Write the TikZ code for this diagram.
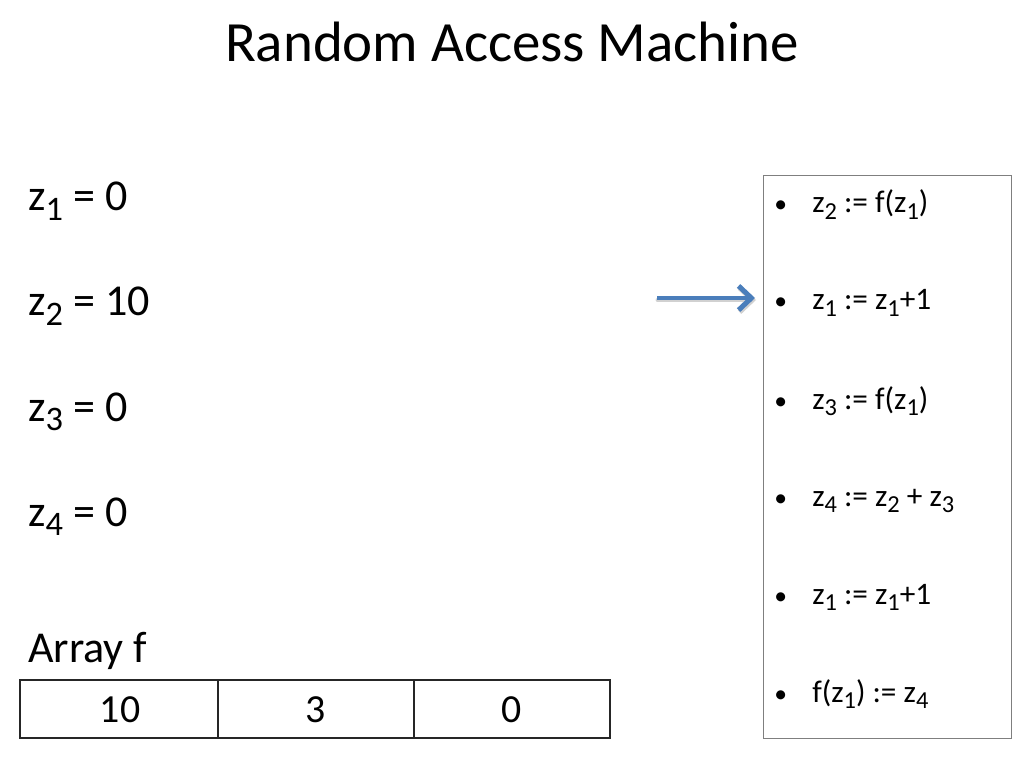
\documentclass[tikz,border=0pt]{standalone}
\usepackage{fontspec}
\setmainfont{Carlito}
\usetikzlibrary{arrows.meta}
\newcommand\zs[1]{\raisebox{-0.22em}{\scalebox{0.78}{#1}}}
\definecolor{arrowblue}{HTML}{4A7EBB}
\definecolor{boxgray}{HTML}{7F7F7F}
\begin{document}
\begin{tikzpicture}[x=0.703125pt,y=-0.703125pt,
  title/.style={font=\fontsize{40}{48}\selectfont,anchor=base,inner sep=0pt},
  reg/.style={font=\fontsize{31}{36}\selectfont,anchor=base west,inner sep=0pt},
  cell/.style={font=\fontsize{28}{32}\selectfont,anchor=base,inner sep=0pt},
  instr/.style={font=\fontsize{22}{26}\selectfont,anchor=base west,inner sep=0pt},
  bul/.style={font=\fontsize{18}{24}\selectfont,anchor=base west,inner sep=0pt}]
\useasboundingbox (0,0) rectangle (1024,768);
\fill[white] (0,0) rectangle (1024,768);
\node[title] (t) at (512,62) {Random Access Machine};
\node[reg] (r1) at (28,211) {z\zs{1} = 0};
\node[reg] (r2) at (28,316) {z\zs{2} = 10};
\node[reg] (r3) at (28,421) {z\zs{3} = 0};
\node[reg] (r4) at (28,526) {z\zs{4} = 0};
\node[reg] (arr) at (28,662) {Array f};
% array table
\draw[line width=1.1pt, black!85] (20,680) rectangle (610,738);
\draw[line width=1.1pt, black!85] (218,680) -- (218,738);
\draw[line width=1.1pt, black!85] (414,680) -- (414,738);
\draw[line width=2pt, black!85] (20,738) -- (610,738);
\node[cell] (c1) at (120,722) {10};
\node[cell] (c2) at (316,722) {3};
\node[cell] (c3) at (512,722) {0};
% program box
\node[draw=boxgray, line width=0.9pt, minimum width=248*0.703125pt, minimum height=563*0.703125pt, inner sep=0pt, anchor=north west] (prog) at (763,175) {};
\foreach \y/\txt [count=\i] in {
  213/{z\zs{2} := f(z\zs{1})},
  310/{z\zs{1} := z\zs{1}+1},
  409/{z\zs{3} := f(z\zs{1})},
  506/{z\zs{4} := z\zs{2} + z\zs{3}},
  604/{z\zs{1} := z\zs{1}+1},
  702/{f(z\zs{1}) := z\zs{4}}} {
  \node[bul] (b\i) at (774,\y) {\textbullet};
  \node[instr] (p\i) at (812,\y) {\txt};
}
\coordinate (as) at (657,298);
\coordinate (ae) at (755,298);
\coordinate (ass) at (658,300);
\coordinate (aes) at (756,300);
\draw[black, opacity=0.18, line width=3.5pt, line cap=round, line join=round, -{Straight Barb[length=9pt,width=17pt,line width=3.5pt]}] (ass) -- (aes);
\draw[arrowblue, line width=3.5pt, -{Straight Barb[length=9pt,width=17pt,line width=3.5pt]}] (as) -- (ae);
\end{tikzpicture}
\end{document}
